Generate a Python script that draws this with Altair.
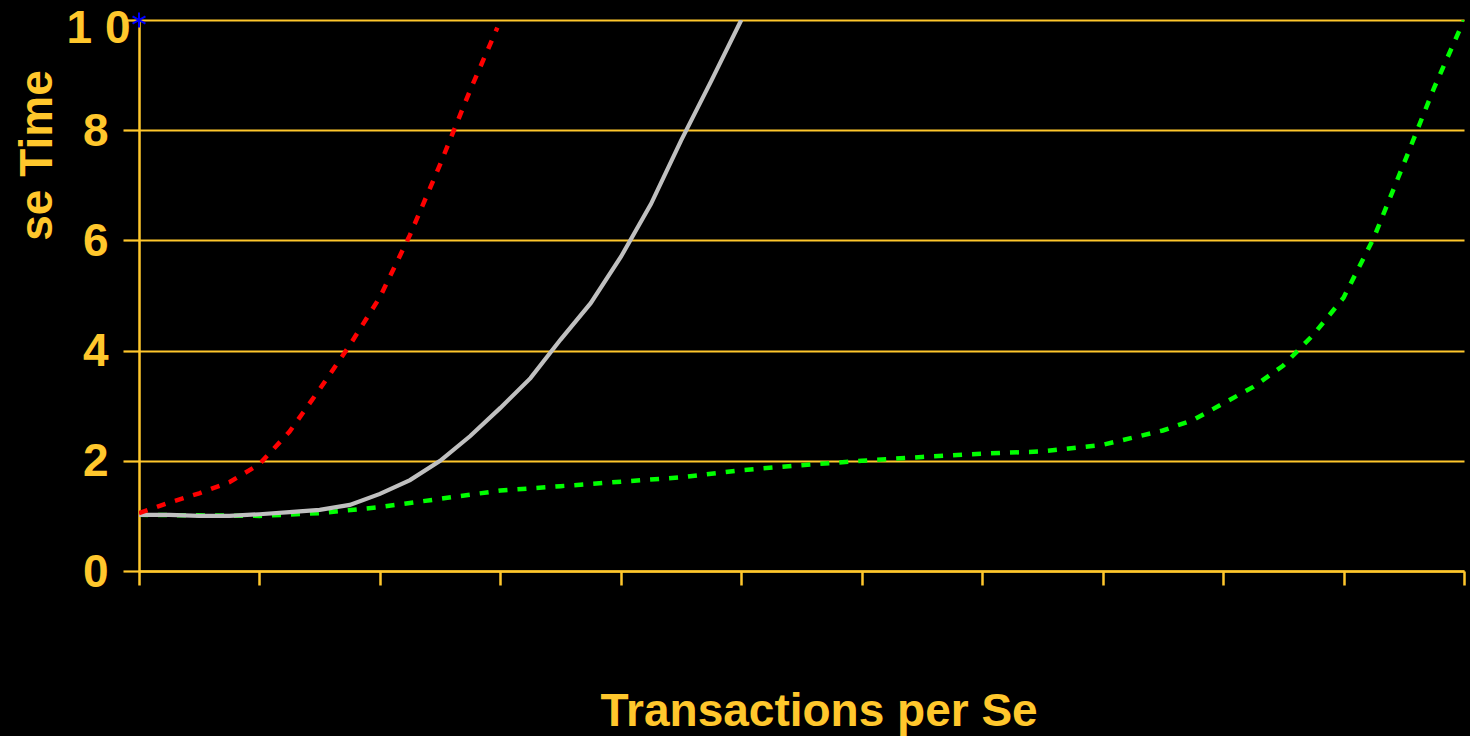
import altair as alt
import pandas as pd

# Response time curves (seconds) against load (transactions per second)
GOLD = "#FFC72C"
FONT = "Liberation Sans"

gray_x = [0, 2.5, 5, 7.5, 10, 12.5, 15, 17.5, 20, 22.5, 25, 27.5, 30, 32.5,
          35, 37.5, 40, 42.5, 45, 47.5, 50]
gray_y = [1.02, 1.02, 1.0, 1.0, 1.03, 1.07, 1.11, 1.20, 1.40, 1.65, 2.0, 2.45,
          2.96, 3.50, 4.20, 4.86, 5.70, 6.66, 7.81, 8.89, 10.0]

red_x = [0, 2.5, 5, 7.5, 10, 12.5, 15, 17.5, 20, 22.5, 25, 27.5, 29.75]
red_y = [1.05, 1.24, 1.41, 1.61, 1.94, 2.53, 3.30, 4.10, 4.97, 6.10, 7.38,
         8.73, 9.86]

green_x = [0, 5, 10, 15, 20, 25, 30, 35, 40, 45, 50, 55, 60, 65, 70, 75, 80,
           85, 87.5, 90, 92.5, 95, 97.5, 100, 102.5, 105, 107.5, 110]
green_y = [1.02, 1.01, 1.0, 1.05, 1.16, 1.31, 1.46, 1.54, 1.62, 1.70, 1.83,
           1.92, 2.0, 2.07, 2.13, 2.17, 2.29, 2.55, 2.74, 3.04, 3.34, 3.73,
           4.29, 4.96, 6.04, 7.39, 8.76, 10.0]

marker_x = [0]
marker_y = [10]

x_ticks = list(range(0, 111, 10))
y_ticks = [0, 2, 4, 6, 8, 10]

x_scale = alt.Scale(domain=[0, 110], nice=False, zero=False)
y_scale = alt.Scale(domain=[0, 10], nice=False)

x_axis = alt.Axis(
    values=x_ticks, labels=False, grid=False, tickSize=14, tickWidth=2.5,
    tickColor=GOLD, domainColor=GOLD, domainWidth=2.5,
    title="Transactions per Se", titleFont=FONT, titleFontSize=46,
    titleFontWeight="bold", titleColor=GOLD, titleAlign="left",
    titleBaseline="alphabetic", titleX=461, titleY=154, titleAngle=0,
)
y_axis = alt.Axis(
    values=y_ticks, grid=True, gridColor=GOLD, gridWidth=2.2, gridOpacity=1,
    tickSize=16, tickWidth=2.2, tickColor=GOLD, domainColor=GOLD,
    domainWidth=2.5,
    labelFont=FONT, labelFontSize=46, labelFontWeight="bold", labelColor=GOLD,
    labelExpr="datum.value == 10 ? '1 0' : datum.label",
    labelPadding={"condition": {"test": "datum.value == 10", "value": -7},
                  "value": 15},
    labelOffset={"condition": {"test": "datum.value == 10", "value": 8},
                 "value": 1},
    labelBaseline="middle",
    title="se Time", titleFont=FONT, titleFontSize=46, titleFontWeight="bold",
    titleColor=GOLD, titleAngle=270, titleAlign="center",
    titleBaseline="alphabetic", titleX=-88, titleY=135,
)


def series(xs, ys):
    return pd.DataFrame({"x": xs, "y": ys})


base_green = alt.Chart(series(green_x, green_y)).mark_line(
    color="#00FF00", strokeWidth=4.5, strokeDash=[9, 10], clip=True
).encode(
    x=alt.X("x:Q", scale=x_scale, axis=x_axis),
    y=alt.Y("y:Q", scale=y_scale, axis=y_axis),
)

gray = alt.Chart(series(gray_x, gray_y)).mark_line(
    color="#C0C0C0", strokeWidth=4.2, clip=True
).encode(x=alt.X("x:Q", scale=x_scale), y=alt.Y("y:Q", scale=y_scale))

red = alt.Chart(series(red_x, red_y)).mark_line(
    color="#FF0000", strokeWidth=4.5, strokeDash=[9, 10], clip=True
).encode(x=alt.X("x:Q", scale=x_scale), y=alt.Y("y:Q", scale=y_scale))

marker = alt.Chart(series(marker_x, marker_y)).mark_point(
    shape="M0,-1L0,1M-0.87,-0.5L0.87,0.5M-0.87,0.5L0.87,-0.5",
    filled=False, stroke="#0000FF", strokeWidth=2, size=220, opacity=1,
).encode(x=alt.X("x:Q", scale=x_scale), y=alt.Y("y:Q", scale=y_scale))

chart = alt.layer(base_green, gray, red, marker).properties(
    width=1325,
    height=551,
    background="#000000",
    autosize=alt.AutoSizeParams(type="none"),
    padding={"left": 139, "top": 20, "right": 6, "bottom": 165},
).configure_view(stroke=None)

chart.save("out.html", embed_options={"renderer": "svg", "actions": False})
